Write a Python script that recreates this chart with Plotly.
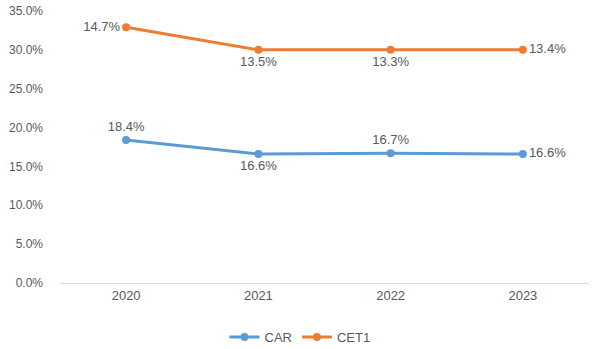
import plotly.graph_objects as go

years = ["2020", "2021", "2022", "2023"]
car_values = [18.4, 16.6, 16.7, 16.6]
car_labels = ["18.4%", "16.6%", "16.7%", "16.6%"]
cet1_values = [32.9, 30.0, 30.0, 30.0]
cet1_labels = ["14.7%", "13.5%", "13.3%", "13.4%"]
y_ticks = [0, 5, 10, 15, 20, 25, 30, 35]
y_tick_labels = ["0.0%", "5.0%", "10.0%", "15.0%", "20.0%", "25.0%", "30.0%", "35.0%"]

blue = "#5B9BD5"
orange = "#ED7D31"
txt = "#595959"
font_family = "Liberation Sans, Arial"
fs = 12
fs_lab = 13

fig = go.Figure()
fig.add_trace(go.Scatter(
    x=years, y=car_values, name="CAR", mode="lines+markers+text",
    text=car_labels,
    textposition=["top center", "bottom center", "top center", "middle right"],
    line=dict(color=blue, width=3), marker=dict(size=8, color=blue),
    textfont=dict(color=txt, size=fs_lab, family=font_family), cliponaxis=False,
))
fig.add_trace(go.Scatter(
    x=years, y=cet1_values, name="CET1", mode="lines+markers+text",
    text=cet1_labels,
    textposition=["middle left", "bottom center", "bottom center", "middle right"],
    line=dict(color=orange, width=3), marker=dict(size=8, color=orange),
    textfont=dict(color=txt, size=fs_lab, family=font_family), cliponaxis=False,
))

fig.update_layout(
    width=600, height=349,
    margin=dict(l=60, r=11, t=11, b=66, autoexpand=False),
    paper_bgcolor="white", plot_bgcolor="white",
    font=dict(family=font_family, color=txt, size=fs),
    showlegend=True,
    legend=dict(orientation="h", x=0.5, xanchor="center", xref="container",
                y=1 - 337 / 349, yanchor="middle", yref="container",
                font=dict(size=fs_lab, color=txt), traceorder="normal"),
)
fig.update_xaxes(showgrid=False, showline=True, linecolor="#D9D9D9", linewidth=1,
                 ticks="", tickfont=dict(size=fs_lab, color=txt), range=[-0.5, 3.5],
                 automargin=False)
fig.update_yaxes(range=[0, 35], tickvals=y_ticks, ticktext=y_tick_labels,
                 showgrid=False, zeroline=False, showline=False, ticks="",
                 tickfont=dict(size=fs, color=txt), ticklabelstandoff=16,
                 automargin=False)

fig.write_html("out.html")
